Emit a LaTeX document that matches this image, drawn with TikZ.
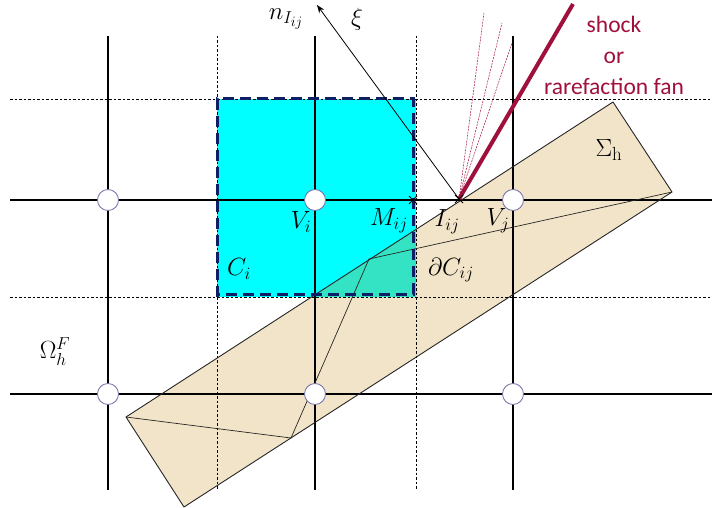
\documentclass[tikz,border=0pt]{standalone}
\usepackage{amsmath,amssymb}
\usepackage{fontspec}
\newfontfamily\fanfont{Carlito}
\usetikzlibrary{arrows.meta,calc}
\DeclareMathSizes{25}{25}{19}{15}

\definecolor{cellCyan}{HTML}{00FFFF}
\definecolor{cellOverlap}{HTML}{33E3C3}
\definecolor{stripTan}{HTML}{F2E4C8}
\definecolor{cellBorder}{HTML}{0F1F66}
\definecolor{shockRed}{HTML}{A0103C}
\definecolor{vertexRim}{HTML}{6E6EA8}

\tikzset{
  gridSolid/.style={black, line width=1.4pt},
  gridDashed/.style={black, line width=0.6pt, dash pattern=on 2.5pt off 2pt},
  stripEdge/.style={draw=black!85, line width=0.9pt, line join=round},
  triEdge/.style={black!85, line width=0.7pt},
  cellEdge/.style={cellBorder, line width=3pt, dash pattern=on 11pt off 6pt},
  vertex/.style={circle, draw=vertexRim, fill=white, line width=0.8pt,
    minimum size=21pt, inner sep=0pt},
  normalArrow/.style={-{Stealth[length=8pt, width=6pt]}, line width=0.8pt},
  shockLine/.style={shockRed, line width=4pt},
  fanLine/.style={shockRed, line width=0.5pt, dash pattern=on 2pt off 1pt},
  crossMark/.style={black, line width=0.9pt},
  mathLabel/.style={font=\fontsize{25}{30}\selectfont, inner sep=0pt},
  fanLabel/.style={font=\fanfont\fontsize{23.5}{31}\selectfont, text=shockRed,
    align=center, inner sep=0pt}
}

\begin{document}
\begin{tikzpicture}[x=1pt,y=-1pt]
  \useasboundingbox (0,0) rectangle (712,508);

  % strip corners and triangulation points
  \coordinate (sA) at (126,417);
  \coordinate (sB) at (613,102);
  \coordinate (sC) at (672,192);
  \coordinate (sD) at (184,507);
  \coordinate (tLow) at (291,438);
  \coordinate (tMid) at (369,259);

  % control cell
  \coordinate (cNW) at (217,99);
  \coordinate (cNE) at (416,99);
  \coordinate (cSE) at (416,297);
  \coordinate (cSW) at (217,297);

  \fill[stripTan] (sA) -- (sB) -- (sC) -- (sD) -- cycle;
  \fill[cellCyan] (cNW) -- (cNE) -- (cSE) -- (cSW) -- cycle;
  \fill[cellOverlap] (311.5,297) -- (416,229.4) -- (cSE) -- cycle;

  % fluid mesh
  \foreach \x in {108,315,513}
    \draw[gridSolid] (\x,36) -- (\x,490);
  \foreach \x in {217,416}
    \draw[gridDashed] (\x,36) -- (\x,490);
  \foreach \y in {200,394}
    \draw[gridSolid] (10,\y) -- (712,\y);
  \foreach \y in {99,297}
    \draw[gridDashed] (10,\y) -- (712,\y);

  % solid strip and its triangles
  \draw[stripEdge] (sA) -- (sB) -- (sC) -- (sD) -- cycle;
  \draw[triEdge] (sA) -- (tLow) -- (tMid) -- (sC);

  \draw[cellEdge] (217,297) -- (217,99) -- (413,99) -- (413,294) -- (217,294);

  \node[vertex] (v11) at (108,200) {};
  \node[vertex] (vi) at (315,200) {};
  \node[vertex] (vj) at (513,200) {};
  \node[vertex] (v21) at (108,394) {};
  \node[vertex] (v22) at (315,394) {};
  \node[vertex] (v23) at (513,394) {};

  \coordinate (Iij) at (459,199);
  \coordinate (Mij) at (413,200);
  \coordinate (nTip) at (317,5);
  \coordinate (shockEnd) at (573,4);

  \draw[fanLine] (Iij) -- (484,13);
  \draw[fanLine] (Iij) -- (502,23);
  \draw[fanLine] (Iij) -- (512,43);
  \draw[shockLine] (Iij) -- (shockEnd);
  \draw[normalArrow] (Iij) -- (nTip);

  \draw[crossMark] ($(Mij)+(-4,-4)$) -- ($(Mij)+(4,4)$)
    ($(Mij)+(-4,4)$) -- ($(Mij)+(4,-4)$);
  \draw[crossMark] ($(Iij)+(-4,-4)$) -- ($(Iij)+(4,4)$)
    ($(Iij)+(-4,4)$) -- ($(Iij)+(4,-4)$);

  % labels
  \node[mathLabel] (nLab) at (286,19) {$n_{I_{ij}}$};
  \node[mathLabel] (xiLab) at (357,19) {$\xi$};
  \node[mathLabel] (viLab) at (301,222) {$V_i$};
  \node[mathLabel] (mLab) at (389,221) {$M_{ij}$};
  \node[mathLabel] (iLab) at (447,222) {$I_{ij}$};
  \node[mathLabel] (vjLab) at (498,221) {$V_j$};
  \node[mathLabel] (ciLab) at (239,269) {$C_i$};
  \node[mathLabel] (dcLab) at (451,270) {$\partial C_{ij}$};
  \node[mathLabel] (sigLab) at (609,150) {$\Sigma_{\mathrm{h}}$};
  \node[mathLabel] (omLab) at (55,352) {$\Omega_h^F$};
  \node[fanLabel] (fanLab) at (614,55) {shock\\or\\rarefaction fan};
\end{tikzpicture}
\end{document}
